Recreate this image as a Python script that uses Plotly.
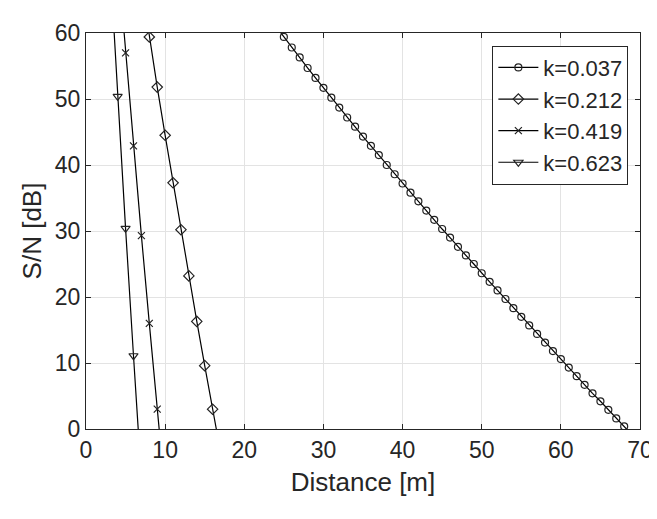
import plotly.graph_objects as go

# distance [m] and S/N [dB]
d_037 = list(range(24, 70))
sn_037 = [61.0, 59.4, 57.8, 56.3, 54.7, 53.2, 51.7, 50.2, 48.7, 47.2, 45.8, 44.3,
          42.9, 41.5, 40.0, 38.6, 37.2, 35.8, 34.5, 33.1, 31.7, 30.3, 29.0, 27.6,
          26.3, 25.0, 23.6, 22.3, 21.0, 19.7, 18.3, 17.0, 15.7, 14.4, 13.1, 11.8,
          10.6, 9.3, 8.0, 6.7, 5.4, 4.2, 2.9, 1.6, 0.4, -0.9]
d_212 = list(range(7, 18))
sn_212 = [67.5, 59.4, 51.8, 44.5, 37.3, 30.2, 23.2, 16.3, 9.6, 3.0, -3.5]
d_419 = list(range(4, 11))
sn_419 = [71.5, 57.0, 42.9, 29.3, 16.0, 3.0, -9.7]
d_623 = list(range(3, 8))
sn_623 = [71.5, 50.4, 30.4, 11.1, -7.5]

names = ["k=0.037", "k=0.212", "k=0.419", "k=0.623"]
xs = [d_037, d_212, d_419, d_623]
ys = [sn_037, sn_212, sn_419, sn_623]
symbols = ["circle-open", "diamond-open", "x-thin-open", "triangle-down-open"]
sizes = [7, 8, 7, 8]

x_ticks = [0, 10, 20, 30, 40, 50, 60, 70]
y_ticks = [0, 10, 20, 30, 40, 50, 60]

fig = go.Figure()
for x, y, n, s, sz in zip(xs, ys, names, symbols, sizes):
    fig.add_trace(go.Scatter(
        x=x, y=y, name=n, mode="lines+markers",
        line=dict(color="black", width=1.2),
        marker=dict(symbol=s, size=sz, color="#222222", line=dict(width=1.2, color="#222222")),
    ))

axis_common = dict(
    showgrid=True, gridcolor="#e3e3e3", gridwidth=1,
    showline=True, linecolor="#262626", linewidth=1, mirror="ticks",
    ticks="inside", ticklen=5, tickcolor="#262626",
    zeroline=False,
    tickfont=dict(size=23, color="#262626"),
)

fig.update_layout(
    width=657, height=519,
    margin=dict(l=78, r=14, t=16, b=98),
    paper_bgcolor="white", plot_bgcolor="white",
    font=dict(family="Liberation Sans, Arial, Helvetica, sans-serif", color="#262626"),
    xaxis=dict(range=[0, 70], tickvals=x_ticks, ticktext=[str(v) for v in x_ticks],
               title=dict(text="Distance [m]", font=dict(size=26), standoff=11), **axis_common),
    yaxis=dict(range=[0, 60], tickvals=y_ticks, ticktext=[str(v) for v in y_ticks],
               title=dict(text="S/N [dB]", font=dict(size=26), standoff=5), **axis_common),
    legend=dict(x=0.979, y=0.968, xanchor="right", yanchor="top",
                bgcolor="white", bordercolor="#262626", borderwidth=1,
                font=dict(size=22, color="#262626"), tracegroupgap=0, itemwidth=40),
    showlegend=True,
)

fig.write_html("out.html")
